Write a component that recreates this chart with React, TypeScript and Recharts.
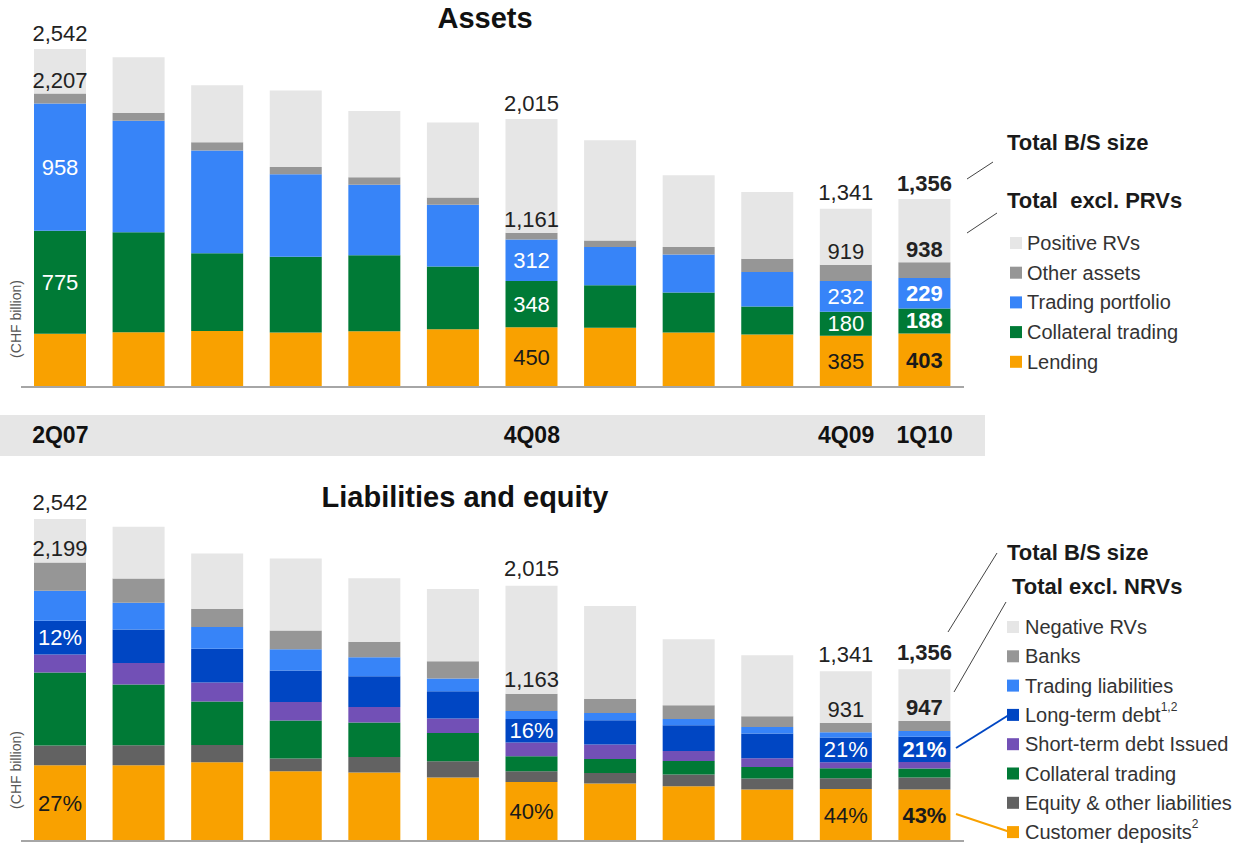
import React from 'react';
import { BarChart, Bar, XAxis, YAxis, LabelList } from 'recharts';

const quarters = ['2Q07', '3Q07', '4Q07', '1Q08', '2Q08', '3Q08', '4Q08', '1Q09', '2Q09', '3Q09', '4Q09', '1Q10'];
const shownQuarters = ['2Q07', '4Q08', '4Q09', '1Q10'];

// Assets (CHF bn), bottom to top
const lending = [400, 412, 422, 410, 420, 435, 450, 445, 410, 395, 385, 403];
const collateralAssets = [775, 751, 583, 570, 570, 472, 348, 320, 300, 210, 180, 188];
const tradingPortfolio = [958, 840, 773, 620, 532, 463, 312, 287, 287, 260, 232, 229];
const otherAssets = [74, 60, 62, 55, 55, 55, 51, 50, 55, 100, 122, 118];
const positiveRVs = [335, 417, 430, 575, 498, 565, 854, 753, 540, 502, 422, 475];

// Liabilities and equity (CHF bn), bottom to top
const customerDeposits = [598, 598, 622, 551, 540, 501, 465, 453, 432, 406, 410, 407];
const equityOther = [155, 158, 136, 100, 124, 129, 86, 84, 92, 87, 85, 94];
const collateralLiab = [577, 479, 343, 300, 271, 223, 118, 111, 108, 91, 79, 71];
const shortTermDebt = [142, 171, 150, 147, 123, 114, 108, 113, 79, 69, 47, 52];
const longTermDebt = [266, 264, 266, 248, 243, 215, 186, 192, 203, 195, 196, 199];
const tradingLiab = [237, 210, 173, 168, 150, 101, 63, 58, 50, 52, 42, 45];
const banks = [224, 193, 143, 148, 121, 136, 137, 111, 108, 85, 72, 79];
const negativeRVs = [343, 407, 437, 568, 503, 571, 852, 733, 520, 482, 410, 409];

// value labels
const assetTotalLbl = ['2,542', '', '', '', '', '', '2,015', '', '', '', '1,341', '1,356'];
const assetExclLbl = ['2,207', '', '', '', '', '', '1,161', '', '', '', '919', '938'];
const tradingLbl = ['958', '', '', '', '', '', '312', '', '', '', '232', '229'];
const collateralLbl = ['775', '', '', '', '', '', '348', '', '', '', '180', '188'];
const lendingLbl = ['', '', '', '', '', '', '450', '', '', '', '385', '403'];

const liabTotalLbl = ['2,542', '', '', '', '', '', '2,015', '', '', '', '1,341', '1,356'];
const liabExclLbl = ['2,199', '', '', '', '', '', '1,163', '', '', '', '931', '947'];
const ltdLbl = ['12%', '', '', '', '', '', '16%', '', '', '', '21%', '21%'];
const depositLbl = ['27%', '', '', '', '', '', '40%', '', '', '', '44%', '43%'];

const ORANGE = '#f9a100';
const GREEN = '#007a36';
const BLUE = '#3784f8';
const DARKBLUE = '#0046c3';
const PURPLE = '#7250b6';
const GRAY = '#969696';
const DARKGRAY = '#626262';
const LIGHT = '#e6e6e6';
const FONT = 'Arial, "Liberation Sans", Helvetica, sans-serif';

const assetSeries = [
  { key: 'lending', name: 'Lending', color: ORANGE },
  { key: 'collateral', name: 'Collateral trading', color: GREEN },
  { key: 'trading', name: 'Trading portfolio', color: BLUE },
  { key: 'other', name: 'Other assets', color: GRAY },
  { key: 'prv', name: 'Positive RVs', color: LIGHT },
];

const liabSeries = [
  { key: 'deposits', name: 'Customer deposits', sup: '2', color: ORANGE },
  { key: 'equity', name: 'Equity & other liabilities', sup: '', color: DARKGRAY },
  { key: 'collateral', name: 'Collateral trading', sup: '', color: GREEN },
  { key: 'std', name: 'Short-term debt Issued', sup: '', color: PURPLE },
  { key: 'ltd', name: 'Long-term debt', sup: '1,2', color: DARKBLUE },
  { key: 'tl', name: 'Trading liabilities', sup: '', color: BLUE },
  { key: 'banks', name: 'Banks', sup: '', color: GRAY },
  { key: 'nrv', name: 'Negative RVs', sup: '', color: LIGHT },
];

const assetRows = quarters.map((q, i) => ({
  q,
  lending: lending[i],
  collateral: collateralAssets[i],
  trading: tradingPortfolio[i],
  other: otherAssets[i],
  prv: positiveRVs[i],
  lendingLbl: lendingLbl[i],
  collateralLbl: collateralLbl[i],
  tradingLbl: tradingLbl[i],
  exclLbl: assetExclLbl[i],
  totalLbl: assetTotalLbl[i],
}));

const liabRows = quarters.map((q, i) => ({
  q,
  deposits: customerDeposits[i],
  equity: equityOther[i],
  collateral: collateralLiab[i],
  std: shortTermDebt[i],
  ltd: longTermDebt[i],
  tl: tradingLiab[i],
  banks: banks[i],
  nrv: negativeRVs[i],
  depositLbl: depositLbl[i],
  ltdLbl: ltdLbl[i],
  exclLbl: liabExclLbl[i],
  totalLbl: liabTotalLbl[i],
}));

const makeLabel = (mode: 'center' | 'above', color: string, gap = 15) => (p: any) => {
  if (!p.value) return null;
  const vb = p.viewBox ?? {};
  const x = p.x ?? vb.x;
  const y = p.y ?? vb.y;
  const w = p.width ?? vb.width;
  const h = p.height ?? vb.height;
  const cy = mode === 'center' ? y + h / 2 : y - gap;
  return (
    <text
      x={x + w / 2}
      y={cy}
      textAnchor="middle"
      dominantBaseline="central"
      fontSize={22}
      fontFamily={FONT}
      fontWeight={p.index === quarters.length - 1 ? 700 : 400}
      fill={color}
    >
      {p.value}
    </text>
  );
};

const QuarterTick = (p: any) => {
  const label = p.payload?.value;
  if (!shownQuarters.includes(label)) return null;
  return (
    <text x={p.x} y={p.y + 48} textAnchor="middle" dominantBaseline="central" fontSize={23} fontWeight={700} fontFamily={FONT} fill="#111">
      {label}
    </text>
  );
};

const App: React.FC = () => {
  return (
    <div style={{ position: 'absolute', left: 0, top: 0, width: 1241, height: 847, background: '#fff', fontFamily: FONT }}>
      {/* quarter band */}
      <div style={{ position: 'absolute', left: 0, top: 415, width: 985, height: 41, background: '#e6e6e6' }} />

      <div style={{ position: 'absolute', left: 0, top: 0 }}>
        <BarChart width={1241} height={470} data={assetRows} margin={{ top: 49, right: 277, bottom: 53, left: 21 }} barSize={52}>
          <XAxis
            dataKey="q"
            height={30}
            interval={0}
            tickLine={false}
            tickSize={0}
            tickMargin={0}
            axisLine={{ stroke: '#a6a6a6', strokeWidth: 2 }}
            tick={<QuarterTick />}
          />
          <YAxis hide domain={[0, 2542]} />
          <Bar dataKey="lending" stackId="a" fill={ORANGE} isAnimationActive={false}>
            <LabelList dataKey="lendingLbl" content={makeLabel('center', '#1a1a1a')} />
          </Bar>
          <Bar dataKey="collateral" stackId="a" fill={GREEN} isAnimationActive={false}>
            <LabelList dataKey="collateralLbl" content={makeLabel('center', '#ffffff')} />
          </Bar>
          <Bar dataKey="trading" stackId="a" fill={BLUE} isAnimationActive={false}>
            <LabelList dataKey="tradingLbl" content={makeLabel('center', '#ffffff')} />
          </Bar>
          <Bar dataKey="other" stackId="a" fill={GRAY} isAnimationActive={false}>
            <LabelList dataKey="exclLbl" content={makeLabel('above', '#222', 13)} />
          </Bar>
          <Bar dataKey="prv" stackId="a" fill={LIGHT} isAnimationActive={false}>
            <LabelList dataKey="totalLbl" content={makeLabel('above', '#222', 16)} />
          </Bar>
        </BarChart>
      </div>

      <div style={{ position: 'absolute', left: 0, top: 470 }}>
        <BarChart width={1241} height={377} data={liabRows} margin={{ top: 49, right: 277, bottom: 4, left: 21 }} barSize={52}>
          <XAxis dataKey="q" height={2} tick={false} tickLine={false} axisLine={{ stroke: '#a6a6a6', strokeWidth: 2 }} />
          <YAxis hide domain={[0, 2542]} />
          <Bar dataKey="deposits" stackId="l" fill={ORANGE} isAnimationActive={false}>
            <LabelList dataKey="depositLbl" content={makeLabel('center', '#1a1a1a')} />
          </Bar>
          <Bar dataKey="equity" stackId="l" fill={DARKGRAY} isAnimationActive={false} />
          <Bar dataKey="collateral" stackId="l" fill={GREEN} isAnimationActive={false} />
          <Bar dataKey="std" stackId="l" fill={PURPLE} isAnimationActive={false} />
          <Bar dataKey="ltd" stackId="l" fill={DARKBLUE} isAnimationActive={false}>
            <LabelList dataKey="ltdLbl" content={makeLabel('center', '#ffffff')} />
          </Bar>
          <Bar dataKey="tl" stackId="l" fill={BLUE} isAnimationActive={false} />
          <Bar dataKey="banks" stackId="l" fill={GRAY} isAnimationActive={false}>
            <LabelList dataKey="exclLbl" content={makeLabel('above', '#222', 14)} />
          </Bar>
          <Bar dataKey="nrv" stackId="l" fill={LIGHT} isAnimationActive={false}>
            <LabelList dataKey="totalLbl" content={makeLabel('above', '#222', 17)} />
          </Bar>
        </BarChart>
      </div>

      {/* titles, legends and annotations */}
      <svg width={1241} height={847} style={{ position: 'absolute', left: 0, top: 0, pointerEvents: 'none' }} fontFamily={FONT}>
        <text x={485} y={28} textAnchor="middle" fontSize={29} fontWeight={700} fill="#111">Assets</text>
        <text x={465} y={507} textAnchor="middle" fontSize={29} fontWeight={700} fill="#111">Liabilities and equity</text>

        <text x={16} y={319} transform="rotate(-90 16 319)" textAnchor="middle" dominantBaseline="central" fontSize={14} fill="#555">(CHF billion)</text>
        <text x={16} y={770} transform="rotate(-90 16 770)" textAnchor="middle" dominantBaseline="central" fontSize={14} fill="#555">(CHF billion)</text>

        {/* assets legend */}
        <text x={1007} y={142} dominantBaseline="central" fontSize={22} fontWeight={700} fill="#1a1a1a">Total B/S size</text>
        <text x={1007} y={200} dominantBaseline="central" fontSize={22} fontWeight={700} fill="#1a1a1a" style={{ whiteSpace: 'pre' }}>Total  excl. PRVs</text>
        <line x1={967} y1={179} x2={993} y2={162} stroke="#444" strokeWidth={1} />
        <line x1={967} y1={233} x2={997} y2={213} stroke="#444" strokeWidth={1} />
        {[...assetSeries].reverse().map((s, i) => (
          <g key={s.key}>
            <rect x={1010} y={243 + i * 29.7 - 6} width={12} height={12} fill={s.color} />
            <text x={1027} y={243 + i * 29.7} dominantBaseline="central" fontSize={20} fill="#333">{s.name}</text>
          </g>
        ))}

        {/* liabilities legend */}
        <text x={1007} y={552} dominantBaseline="central" fontSize={22} fontWeight={700} fill="#1a1a1a">Total B/S size</text>
        <text x={1012} y={586} dominantBaseline="central" fontSize={22} fontWeight={700} fill="#1a1a1a">Total excl. NRVs</text>
        <line x1={948} y1={632} x2={997} y2={553} stroke="#444" strokeWidth={1} />
        <line x1={954} y1={692} x2={1006} y2={602} stroke="#444" strokeWidth={1} />
        <line x1={956} y1={748} x2={1012} y2={713} stroke={DARKBLUE} strokeWidth={2} />
        <line x1={956} y1={814} x2={1010} y2={832} stroke={ORANGE} strokeWidth={2} />
        {[...liabSeries].reverse().map((s, i) => (
          <g key={s.key}>
            <rect x={1007} y={627 + i * 29.3 - 6} width={12} height={12} fill={s.color} />
            <text x={1025} y={627 + i * 29.3} dominantBaseline="central" fontSize={20} fill="#333">
              {s.name}
              {s.sup ? <tspan fontSize={12} dy={-8}>{s.sup}</tspan> : null}
            </text>
          </g>
        ))}
      </svg>
    </div>
  );
};

export default App;
